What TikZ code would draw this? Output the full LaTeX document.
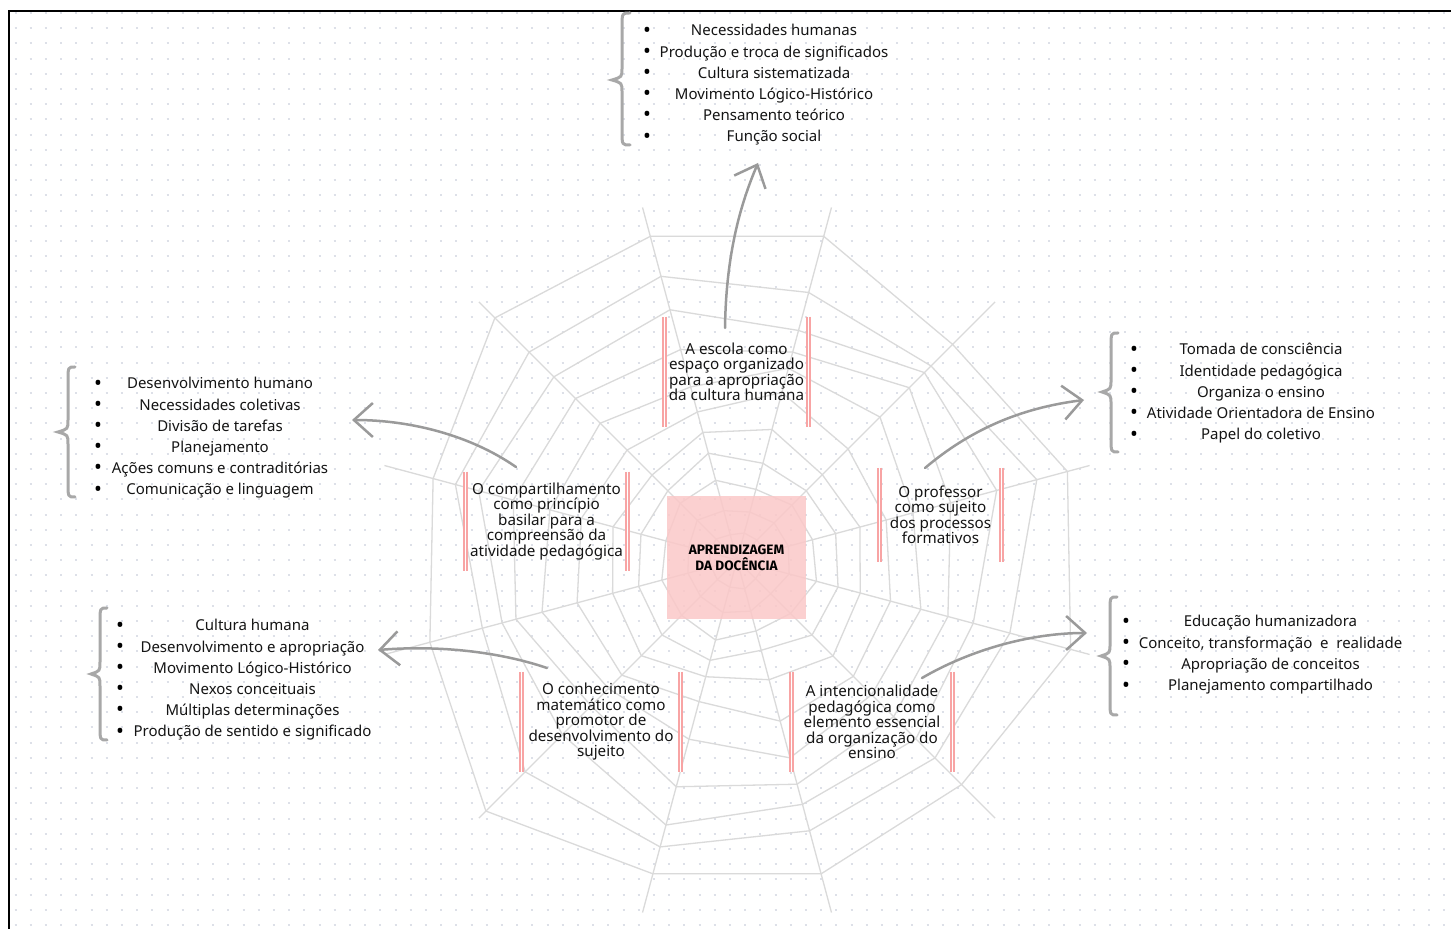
\documentclass[tikz,border=0pt]{standalone}
\usepackage{fontspec}
\setmainfont{Noto Sans}
\newfontfamily\titlefont{Fira Sans}
\usetikzlibrary{arrows.meta}
\definecolor{webc}{HTML}{DADADA}
\definecolor{dotc}{HTML}{DDE0E8}
\definecolor{barc}{HTML}{F8A4A4}
\definecolor{boxc}{HTML}{FBC8C8}
\definecolor{arrc}{HTML}{9A9A9A}
\definecolor{bracec}{HTML}{A8A8A8}
\definecolor{txtc}{HTML}{141414}
\newcommand\mybrace[6]{%
  \draw[brc] (#1,#4) .. controls (#2,#4) .. (#2,{#4+14}) -- (#2,{#5-12})
    .. controls (#2,{#5-3}) .. (#3,#5) .. controls (#2,{#5+3}) .. (#2,{#5+12})
    -- (#2,{#6-14}) .. controls (#2,#6) .. (#1,#6);}
\begin{document}
\begin{tikzpicture}[x=0.5pt,y=-0.5pt,
  web/.style={draw=webc, line width=0.65pt},
  topic/.style={inner sep=0pt, align=center, text=txtc, font=\fontsize{7.6}{7.75}\selectfont},
  bar/.style={draw=barc, double=white, double distance=0.7pt, line width=0.85pt},
  lst/.style={inner sep=0pt, anchor=base, text=txtc, font=\fontsize{7.5}{8}\selectfont},
  bul/.style={inner sep=0pt, anchor=base, yshift=-0.6pt, text=black, font=\fontsize{10.5}{10}\selectfont},
  brc/.style={draw=bracec, line width=1.5pt, line cap=round},
  arr/.style={draw=arrc, line width=1.25pt, line cap=round, -{Straight Barb[length=9.5pt,width=17pt]}},
  frame/.style={draw=black, line width=1pt},
  corebox/.style={fill=boxc, fill opacity=0.85, text opacity=1, inner sep=0pt,
    minimum width=69.5pt, minimum height=61.5pt, align=center,
    font=\titlefont\bfseries\fontsize{6.8}{8}\selectfont}]
\useasboundingbox (0,0) rectangle (1451,929);
\fill[white] (0,0) rectangle (1451,929);
% dot grid
\foreach \j in {0,...,60}
  \draw[dotc, line width=1pt, dash pattern=on 1pt off 6.6pt] (14.5,{13+15.2*\j}) -- (1451,{13+15.2*\j});
% web
\coordinate (wc) at (737,560);
\foreach \k in {0,...,11} \draw[web] (wc) -- ++({15+30*\k}:365);
\foreach \r [count=\i] in {28,52,78,102,128,160,192,225,256,287,330} {
  \draw[web] plot[samples at={0,...,12}, variable=\k]
    ({737+\r*(1+0.05*sin(90*\k+47*\i)+0.035*cos(150*\k+71*\i))*cos(15+30*\k)},
     {560-\r*(1+0.05*sin(90*\k+47*\i)+0.035*cos(150*\k+71*\i))*sin(15+30*\k)});
}
% center
\node[corebox] (core) at (736.5,557.5) {APRENDIZAGEM\\DA DOCÊNCIA};
% frame
\draw[frame] (1451,11) -- (9,11) -- (9,929);
% topics
\node[topic, minimum width=71.5pt, minimum height=55pt] (n1) at (736.5,372)
  {A escola como\\espaço organizado\\para a apropriação\\da cultura humana};
\node[topic, minimum width=80.5pt, minimum height=49.5pt] (n2) at (546.5,521.5)
  {O compartilhamento\\como princípio\\basilar para a\\compreensão da\\atividade pedagógica};
\node[topic, minimum width=60.5pt, minimum height=47pt] (n3) at (940.5,515)
  {O professor\\como sujeito\\dos processos\\formativos};
\node[topic, minimum width=79pt, minimum height=50pt] (n4) at (601,722)
  {O conhecimento\\matemático como\\promotor de\\desenvolvimento do\\sujeito};
\node[topic, minimum width=80pt, minimum height=50pt] (n5) at (872,722)
  {A intencionalidade\\pedagógica como\\elemento essencial\\da organização do\\ensino};
\foreach \n in {n1,n2,n3,n4,n5} {
  \draw[bar] (\n.north west) -- (\n.south west);
  \draw[bar] (\n.north east) -- (\n.south east);
}
% lists
\foreach \t [count=\i] in {Necessidades humanas, Produção e troca de significados, Cultura sistematizada, Movimento Lógico-Histórico, Pensamento teórico, Função social} {
  \node[bul] (ab\i) at (647,{36+21.2*(\i-1)}) {\textbullet};
  \node[lst] (at\i) at (774,{36+21.2*(\i-1)}) {\t};
}
\foreach \t [count=\i] in {Desenvolvimento humano, Necessidades coletivas, Divisão de tarefas, Planejamento, Ações comuns e contraditórias, Comunicação e linguagem} {
  \node[bul] (bb\i) at (98,{389+21.2*(\i-1)}) {\textbullet};
  \node[lst] (bt\i) at (220,{389+21.2*(\i-1)}) {\t};
}
\foreach \t [count=\i] in {Tomada de consciência, Identidade pedagógica, Organiza o ensino, Atividade Orientadora de Ensino, Papel do coletivo} {
  \node[bul] (cb\i) at (1134,{355+21.25*(\i-1)}) {\textbullet};
  \node[lst] (ct\i) at (1261,{355+21.25*(\i-1)}) {\t};
}
\foreach \t [count=\i] in {Cultura humana, Desenvolvimento e apropriação, Movimento Lógico-Histórico, Nexos conceituais, Múltiplas determinações, Produção de sentido e significado} {
  \node[bul] (db\i) at (120,{631+21.2*(\i-1)}) {\textbullet};
  \node[lst] (dt\i) at (252.5,{631+21.2*(\i-1)}) {\t};
}
\foreach \t [count=\i] in {Educação humanizadora, {Conceito, transformação\ \ e\ \ realidade}, Apropriação de conceitos, Planejamento compartilhado} {
  \node[bul] (eb\i) at (1126,{627+21.3*(\i-1)}) {\textbullet};
  \node[lst] (et\i) at (1270.5,{627+21.3*(\i-1)}) {\t};
}
% braces
\mybrace{630}{622}{612}{13}{80}{145}
\mybrace{75}{68}{58}{367}{432}{497}
\mybrace{1118}{1111}{1102}{333}{392}{452}
\mybrace{107}{100}{91}{608}{674}{740}
\mybrace{1117}{1110}{1101}{597}{656}{715}
% arrows
\coordinate (a1s) at (725,328); \coordinate (a1e) at (758,163);
\coordinate (a2s) at (516,467); \coordinate (a2e) at (352,420);
\coordinate (a3s) at (925,468); \coordinate (a3e) at (1084,400);
\coordinate (a4s) at (547,668); \coordinate (a4e) at (378,650);
\coordinate (a5s) at (922,678); \coordinate (a5e) at (1087,633);
\draw[arr] (a1s) .. controls (726,260) and (738,210) .. (a1e);
\draw[arr] (a2s) .. controls (470,435) and (410,420) .. (a2e);
\draw[arr] (a3s) .. controls (970,430) and (1020,408) .. (a3e);
\draw[arr] (a4s) .. controls (500,652) and (440,645) .. (a4e);
\draw[arr] (a5s) .. controls (970,650) and (1030,633) .. (a5e);
\end{tikzpicture}
\end{document}
